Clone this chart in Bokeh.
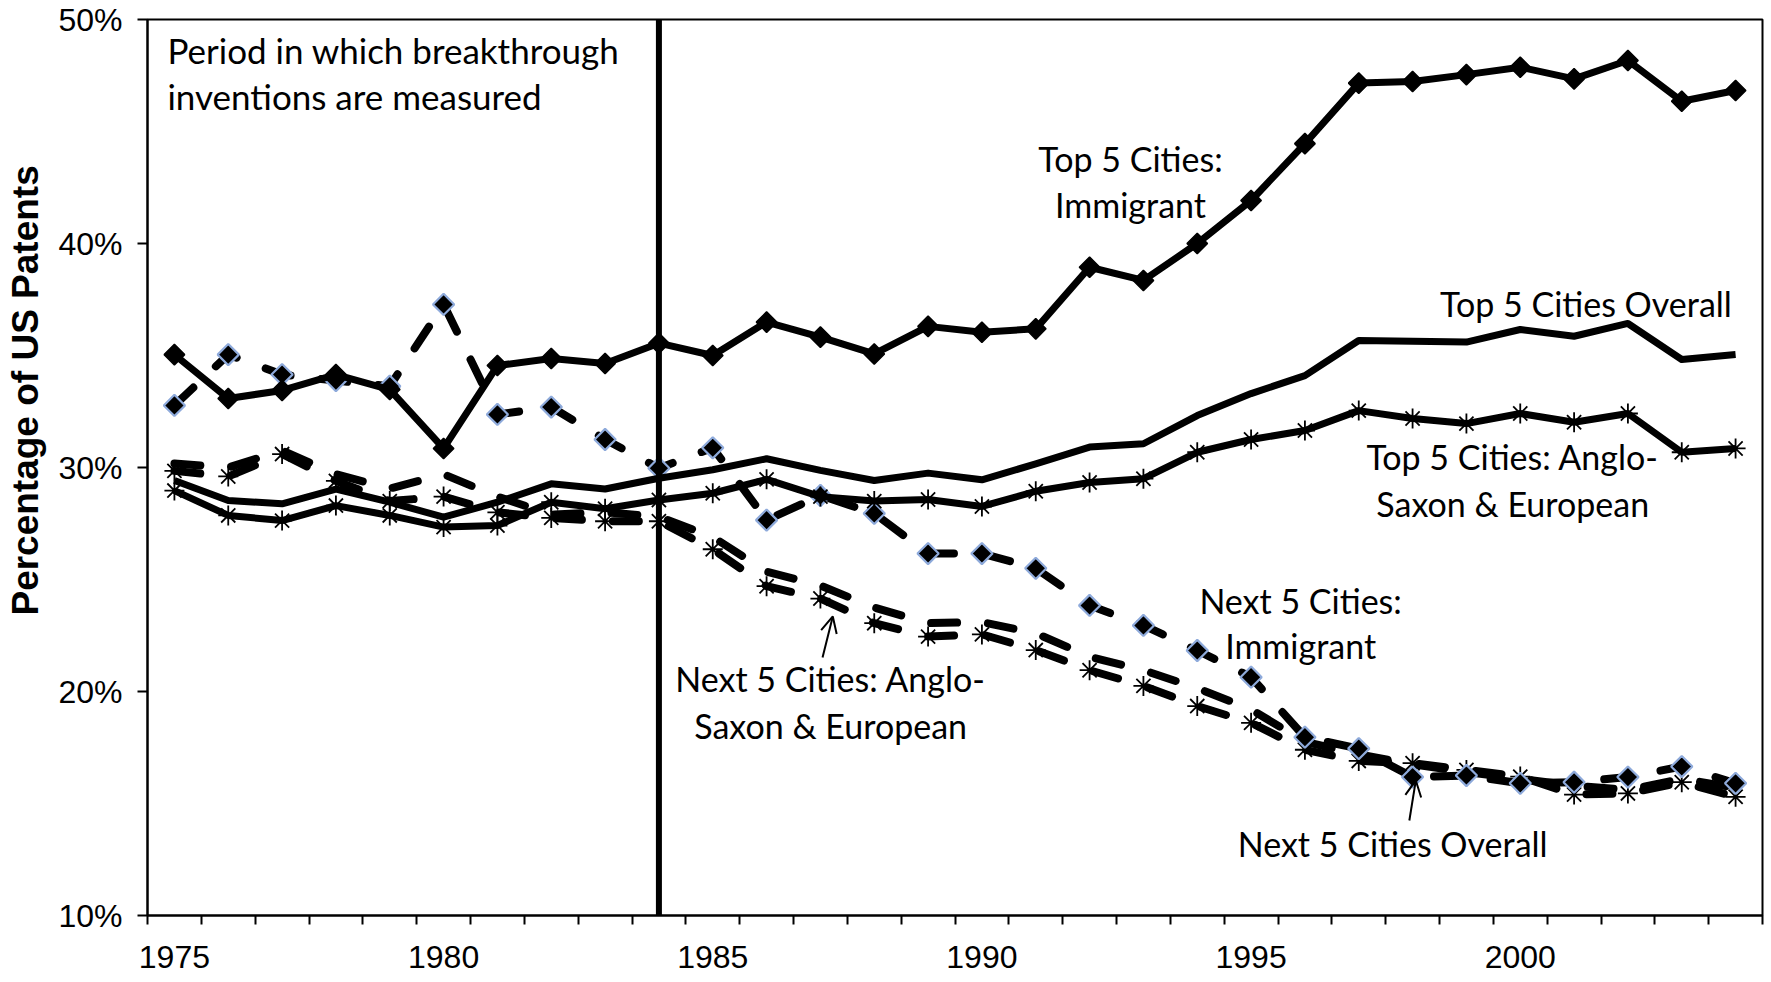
import numpy as np
from bokeh.plotting import figure
from bokeh.models import FixedTicker, Span, Arrow, OpenHead, Range1d, Label
from bokeh.embed import file_html
from bokeh.resources import INLINE

# ---------------- data ----------------
years = list(range(1975, 2005))

top_immigrant = [35.04, 33.08, 33.44, 34.15, 33.48, 30.85, 34.55, 34.87, 34.64, 35.55,
                 35.00, 36.49, 35.82, 35.07, 36.30, 36.04, 36.19, 38.94, 38.35, 40.00,
                 41.92, 44.46, 47.16, 47.23, 47.54, 47.87, 47.35, 48.17, 46.35, 46.83]
top_overall = [29.42, 28.53, 28.38, 29.04, 28.45, 27.78, 28.45, 29.27, 29.04, 29.52,
               29.90, 30.39, 29.87, 29.42, 29.75, 29.45, 30.16, 30.91, 31.06, 32.32,
               33.30, 34.10, 35.67, 35.64, 35.60, 36.16, 35.86, 36.43, 34.82, 35.04]
top_anglo = [28.97, 27.86, 27.63, 28.30, 27.86, 27.34, 27.41, 28.45, 28.16, 28.55,
             28.85, 29.47, 28.70, 28.50, 28.57, 28.26, 28.94, 29.33, 29.50, 30.68,
             31.25, 31.65, 32.54, 32.19, 31.96, 32.41, 32.02, 32.41, 30.68, 30.85]
next_immigrant = [32.77, 35.04, 34.15, 33.88, 33.63, 37.28, 32.37, 32.70, 31.25, 29.97,
                  30.88, 27.65, 28.75, 27.95, 26.16, 26.16, 25.50, 23.84, 22.95, 21.83,
                  20.64, 17.96, 17.45, 16.18, 16.25, 15.90, 15.95, 16.18, 16.65, 15.90]
next_overall = [30.18, 30.00, 30.76, 29.70, 29.06, 29.70, 28.70, 27.90, 28.00, 27.80,
                26.90, 25.35, 24.73, 23.75, 23.05, 23.10, 22.60, 21.55, 20.95, 20.15,
                19.20, 17.75, 17.20, 16.75, 16.40, 16.10, 15.80, 15.60, 16.10, 15.70]
next_anglo = [29.85, 29.60, 30.60, 29.40, 28.50, 28.70, 28.00, 27.75, 27.60, 27.60,
              26.35, 24.70, 24.15, 23.05, 22.45, 22.55, 21.85, 20.95, 20.25, 19.35,
              18.60, 17.40, 16.90, 16.80, 16.50, 16.20, 15.40, 15.45, 15.95, 15.30]

x_tick_years = [1975, 1980, 1985, 1990, 1995, 2000]
y_ticks = [10, 20, 30, 40, 50]
y_tick_labels = ["10%", "20%", "30%", "40%", "50%"]
y_title = "Percentage of US Patents"
breakthrough_year = 1984

# ---------------- figure ----------------
p = figure(width=1771, height=982, output_backend="svg", toolbar_location=None,
           x_range=Range1d(1974.5, 2004.5), y_range=Range1d(10, 50),
           min_border_left=147, min_border_right=9, min_border_top=19, min_border_bottom=67)
p.xgrid.visible = False
p.ygrid.visible = False
p.outline_line_color = "black"
p.outline_line_width = 2
p.background_fill_color = "white"
p.border_fill_color = "white"

tick_font = "Liberation Sans"

xa = p.xaxis[0]
xa.ticker = FixedTicker(ticks=x_tick_years,
                        minor_ticks=[y - 0.5 for y in years] + [years[-1] + 0.5])
xa.major_tick_out = 0
xa.major_tick_in = 0
xa.minor_tick_out = 9
xa.minor_tick_in = 0
xa.minor_tick_line_width = 2
xa.minor_tick_line_color = "black"
xa.axis_line_width = 2
xa.axis_line_color = "black"
xa.major_label_standoff = 21
xa.major_label_text_font = tick_font
xa.major_label_text_font_size = "32px"
xa.major_label_text_color = "black"

ya = p.yaxis[0]
ya.ticker = FixedTicker(ticks=y_ticks)
ya.major_label_overrides = {t: l for t, l in zip(y_ticks, y_tick_labels)}
ya.major_tick_out = 10
ya.major_tick_in = 0
ya.major_tick_line_width = 2
ya.major_tick_line_color = "black"
ya.minor_tick_line_color = None
ya.axis_line_width = 2
ya.axis_line_color = "black"
ya.major_label_standoff = 15
ya.major_label_text_font = tick_font
ya.major_label_text_font_size = "32px"
ya.major_label_text_color = "black"
# leading non-breaking spaces push the title upward, as in the original
ya.axis_label = "\u00a0" * 15 + y_title
ya.axis_label_text_font = tick_font
ya.axis_label_text_font_size = "37px"
ya.axis_label_text_font_style = "bold"
ya.axis_label_text_color = "black"
ya.axis_label_standoff = 9

# ---------------- series ----------------
dash = "26 31"
blue_edge = "#8EAADB"

p.line(years, next_overall, line_width=8, line_color="black", line_dash=dash, line_cap="round")
p.line(years, next_anglo, line_width=8, line_color="black", line_dash=dash, line_cap="round")
p.scatter(years, next_anglo, marker="asterisk", size=20, line_color="black", line_width=1.8)
p.line(years, next_immigrant, line_width=8, line_color="black", line_dash=dash, line_cap="round")
p.scatter(years, next_immigrant, marker="square", angle=np.pi / 4, size=15,
          fill_color="black", line_color=blue_edge, line_width=2.2)

p.line(years, top_overall, line_width=7, line_color="black", line_join="round")
p.line(years, top_anglo, line_width=7, line_color="black", line_join="round")
p.scatter(years, top_anglo, marker="asterisk", size=20, line_color="black", line_width=1.8)
p.line(years, top_immigrant, line_width=7, line_color="black", line_join="round")
p.scatter(years, top_immigrant, marker="square", angle=np.pi / 4, size=14.5,
          fill_color="black", line_color="black", line_width=1.5)

p.add_layout(Span(location=breakthrough_year, dimension="height",
                  line_color="black", line_width=6))

# ---------------- annotations ----------------
afont = "Lato"
asize = "34px"

def lab(x, y, text, align="center", size=asize):
    p.add_layout(Label(x=x, y=y, text=text, text_font=afont, text_font_size=size,
                       text_align=align, text_baseline="alphabetic", text_color="black"))

lab(1974.87, 48.63, "Period in which breakthrough", "left", "35px")
lab(1974.87, 46.58, "inventions are measured", "left", "35px")
lab(1992.76, 43.81, "Top 5 Cities:")
lab(1992.76, 41.72, "Immigrant")
lab(2001.22, 37.34, "Top 5 Cities Overall")
lab(1999.86, 30.51, "Top 5 Cities: Anglo-")
lab(1999.86, 28.38, "Saxon & European")
lab(1995.92, 24.08, "Next 5 Cities:")
lab(1995.92, 22.04, "Immigrant")
lab(1987.19, 20.59, "Next 5 Cities: Anglo-")
lab(1987.19, 18.49, "Saxon & European")
lab(1997.63, 13.21, "Next 5 Cities Overall")

p.add_layout(Arrow(end=OpenHead(size=16, line_width=2, line_color="black"),
                   x_start=1987.04, y_start=21.52, x_end=1987.23, y_end=23.35,
                   line_width=2, line_color="black"))
p.add_layout(Arrow(end=OpenHead(size=16, line_width=2, line_color="black"),
                   x_start=1997.94, y_start=14.24, x_end=1998.06, y_end=16.03,
                   line_width=2, line_color="black"))

open("out.html", "w").write(file_html(p, INLINE))
